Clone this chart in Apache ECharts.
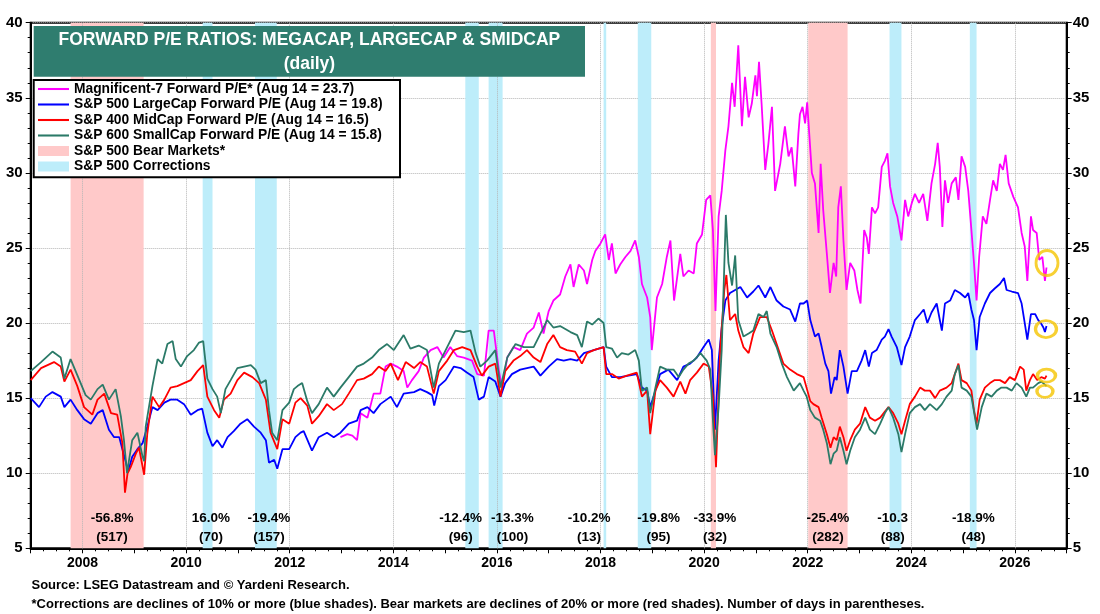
<!DOCTYPE html>
<html lang="en">
<head>
<meta charset="UTF-8">
<title>Forward P/E Ratios</title>
<script src="https://cdn.jsdelivr.net/npm/echarts@6/dist/echarts.min.js"></script>
</head>
<body style="margin:0; background:#fff">
<div id="container" style="width:1100px; height:614px"></div>
<script type="text/javascript">

var FONT = '"Liberation Sans", Arial, Helvetica, sans-serif';

// series names (legend order)
var names = [
    'Magnificent-7 Forward P/E* (Aug 14 = 23.7)',
    'S&P 500 LargeCap Forward P/E (Aug 14 = 19.8)',
    'S&P 400 MidCap Forward P/E (Aug 14 = 16.5)',
    'S&P 600 SmallCap Forward P/E (Aug 14 = 15.8)',
    'S&P 500 Bear Markets*',
    'S&P 500 Corrections'
];

// [decimal year, forward P/E]
var mag7 = [
    [2012.98,12.4],[2013.11,12.6],[2013.21,12.5],[2013.30,12.2],[2013.37,14.0],[2013.50,13.7],[2013.62,15.3],[2013.75,15.3],
    [2013.85,17.1],[2013.95,17.3],[2014.07,17.1],[2014.20,16.8],[2014.27,15.7],[2014.36,16.2],[2014.49,16.8],[2014.59,17.7],
    [2014.72,18.2],[2014.85,18.4],[2014.97,17.7],[2015.10,18.4],[2015.23,17.8],[2015.36,17.7],[2015.52,17.5],[2015.62,16.6],
    [2015.75,16.5],[2015.84,19.5],[2015.94,19.5],[2016.04,16.8],[2016.10,15.7],[2016.20,17.7],[2016.32,18.4],[2016.45,18.2],
    [2016.58,19.3],[2016.71,19.7],[2016.81,20.7],[2016.90,19.3],[2017.00,20.8],[2017.09,21.5],[2017.22,21.9],[2017.32,23.1],
    [2017.42,23.9],[2017.48,22.4],[2017.58,23.9],[2017.68,23.5],[2017.74,22.6],[2017.84,24.2],[2017.90,24.8],[2018.00,25.3],
    [2018.09,25.9],[2018.16,24.2],[2018.22,25.3],[2018.29,23.3],[2018.38,23.9],[2018.48,24.4],[2018.58,24.8],[2018.67,25.5],
    [2018.74,24.4],[2018.80,22.6],[2018.90,21.7],[2018.96,20.4],[2018.99,18.2],[2019.09,21.7],[2019.19,22.6],[2019.28,24.4],
    [2019.35,25.5],[2019.42,21.5],[2019.54,24.6],[2019.60,23.1],[2019.70,23.5],[2019.80,23.3],[2019.86,25.3],[2019.96,25.9],
    [2020.04,28.2],[2020.12,28.5],[2020.17,26.2],[2020.22,20.8],[2020.28,27.1],[2020.34,28.8],[2020.41,31.5],[2020.47,33.1],
    [2020.54,36.0],[2020.59,34.4],[2020.66,38.5],[2020.73,33.1],[2020.79,36.4],[2020.86,33.7],[2020.92,34.6],[2020.99,36.5],
    [2021.02,35.1],[2021.06,37.4],[2021.11,34.6],[2021.18,30.2],[2021.24,31.9],[2021.31,34.4],[2021.37,28.8],[2021.47,30.6],
    [2021.56,33.1],[2021.63,31.1],[2021.69,31.7],[2021.76,29.1],[2021.82,32.6],[2021.85,33.9],[2021.90,34.4],[2021.95,33.3],
    [2021.99,34.7],[2022.03,32.6],[2022.08,30.0],[2022.14,29.3],[2022.21,26.0],[2022.25,30.6],[2022.30,27.5],[2022.37,24.6],
    [2022.43,22.0],[2022.50,24.0],[2022.55,23.1],[2022.59,27.7],[2022.64,29.1],[2022.69,25.5],[2022.75,22.2],[2022.82,24.0],
    [2022.90,23.5],[2022.96,22.2],[2023.02,21.3],[2023.09,26.2],[2023.14,25.7],[2023.18,24.6],[2023.24,27.7],[2023.30,27.3],
    [2023.36,27.7],[2023.43,30.4],[2023.49,30.8],[2023.54,31.3],[2023.59,29.1],[2023.65,28.0],[2023.73,27.1],[2023.81,25.5],
    [2023.88,28.2],[2023.94,27.1],[2024.01,28.0],[2024.07,28.6],[2024.15,28.0],[2024.23,28.6],[2024.31,26.8],[2024.39,29.3],
    [2024.46,30.6],[2024.51,32.0],[2024.55,30.4],[2024.60,26.4],[2024.65,29.5],[2024.71,28.0],[2024.78,29.3],[2024.86,29.7],
    [2024.91,28.2],[2024.97,31.1],[2025.04,30.4],[2025.10,28.8],[2025.16,26.2],[2025.21,24.0],[2025.26,21.5],[2025.31,24.4],
    [2025.38,27.1],[2025.45,26.6],[2025.52,28.2],[2025.58,29.5],[2025.65,28.8],[2025.71,30.6],[2025.77,30.2],[2025.82,31.2],
    [2025.88,29.3],[2025.97,28.4],[2026.06,27.7],[2026.13,26.0],[2026.19,25.1],[2026.24,22.8],[2026.31,27.1],[2026.35,26.2],
    [2026.42,26.0],[2026.47,24.2],[2026.53,24.4],[2026.58,22.8],[2026.61,23.7]
];

var largeCap = [
    [2007.00,15.0],[2007.16,14.4],[2007.29,15.1],[2007.42,15.4],[2007.58,15.1],[2007.65,14.4],[2007.77,14.9],[2007.90,14.2],
    [2008.03,13.6],[2008.16,13.3],[2008.29,14.0],[2008.39,14.2],[2008.51,12.9],[2008.61,12.4],[2008.71,12.4],[2008.77,11.6],
    [2008.84,10.7],[2008.88,10.1],[2008.96,11.1],[2009.06,11.6],[2009.16,12.0],[2009.25,13.1],[2009.35,14.4],[2009.45,14.2],
    [2009.58,14.7],[2009.70,14.9],[2009.83,14.9],[2009.96,14.6],[2010.09,13.9],[2010.22,14.2],[2010.31,14.3],[2010.41,12.7],
    [2010.51,11.8],[2010.60,12.2],[2010.70,11.7],[2010.80,12.4],[2010.92,12.8],[2011.05,13.3],[2011.18,13.6],[2011.31,13.1],
    [2011.44,12.7],[2011.54,12.2],[2011.60,10.7],[2011.70,10.9],[2011.76,10.3],[2011.86,11.6],[2011.99,11.6],[2012.11,12.4],
    [2012.21,12.7],[2012.27,12.8],[2012.43,11.5],[2012.56,12.4],[2012.72,12.7],[2012.85,12.4],[2012.98,12.7],[2013.14,13.3],
    [2013.30,13.5],[2013.37,14.2],[2013.50,14.4],[2013.62,14.0],[2013.75,14.6],[2013.95,15.1],[2014.07,14.4],[2014.20,15.3],
    [2014.40,15.4],[2014.52,15.6],[2014.65,15.4],[2014.75,15.2],[2014.79,14.5],[2014.88,15.8],[2015.01,16.2],[2015.17,17.1],
    [2015.30,17.0],[2015.42,16.7],[2015.55,16.4],[2015.65,14.9],[2015.75,15.1],[2015.84,16.4],[2015.97,16.1],[2016.07,15.1],
    [2016.16,16.0],[2016.29,16.6],[2016.45,16.9],[2016.58,17.0],[2016.71,17.1],[2016.84,16.5],[2017.00,17.1],[2017.16,17.6],
    [2017.29,17.5],[2017.42,17.6],[2017.55,17.5],[2017.68,18.0],[2017.87,18.2],[2018.06,18.4],[2018.11,17.1],[2018.22,16.4],
    [2018.38,16.4],[2018.54,16.5],[2018.70,16.6],[2018.80,15.7],[2018.90,15.5],[2018.96,14.4],[2019.06,15.5],[2019.15,16.6],
    [2019.31,16.9],[2019.48,16.2],[2019.60,17.1],[2019.73,17.3],[2019.86,17.7],[2019.99,18.4],[2020.09,18.9],[2020.15,18.2],
    [2020.21,12.9],[2020.28,17.5],[2020.34,19.7],[2020.41,21.5],[2020.50,22.0],[2020.60,22.2],[2020.70,22.4],[2020.83,21.7],
    [2020.95,22.1],[2021.05,22.5],[2021.18,21.7],[2021.28,22.4],[2021.40,21.5],[2021.53,21.1],[2021.66,20.9],[2021.76,20.1],
    [2021.85,21.3],[2021.92,21.3],[2021.99,21.5],[2022.05,20.2],[2022.14,19.1],[2022.21,19.3],[2022.27,18.4],[2022.34,17.3],
    [2022.40,16.8],[2022.45,15.3],[2022.52,16.4],[2022.56,16.2],[2022.62,18.2],[2022.69,17.1],[2022.77,15.3],[2022.85,16.8],
    [2022.95,16.8],[2023.04,17.5],[2023.11,18.2],[2023.18,17.1],[2023.24,18.0],[2023.33,18.2],[2023.43,18.9],[2023.49,19.1],
    [2023.56,19.6],[2023.62,19.1],[2023.72,18.4],[2023.81,17.2],[2023.88,18.4],[2023.97,19.1],[2024.07,20.2],[2024.17,20.6],
    [2024.24,20.9],[2024.31,20.0],[2024.39,20.7],[2024.49,21.3],[2024.59,19.5],[2024.65,21.3],[2024.75,21.5],[2024.84,22.2],
    [2024.94,22.0],[2025.04,21.7],[2025.10,22.0],[2025.16,20.9],[2025.21,20.2],[2025.26,18.2],[2025.32,20.4],[2025.42,21.3],
    [2025.52,22.0],[2025.61,22.3],[2025.71,22.6],[2025.79,23.0],[2025.84,22.2],[2025.94,22.1],[2026.06,22.0],[2026.13,21.3],
    [2026.19,20.0],[2026.24,18.9],[2026.31,20.6],[2026.39,20.6],[2026.45,20.2],[2026.50,20.0],[2026.55,19.7],[2026.58,19.4],
    [2026.61,19.8]
];

var midCap = [
    [2007.00,16.2],[2007.20,17.0],[2007.45,17.4],[2007.58,17.1],[2007.65,16.1],[2007.77,16.9],[2007.90,15.8],[2008.03,14.4],
    [2008.19,13.9],[2008.29,14.9],[2008.42,15.3],[2008.55,14.0],[2008.67,13.9],[2008.77,12.0],[2008.82,8.7],[2008.87,10.0],
    [2008.93,10.4],[2009.03,11.3],[2009.09,11.7],[2009.19,9.9],[2009.25,12.6],[2009.35,15.1],[2009.48,14.4],[2009.58,14.9],
    [2009.70,15.7],[2009.83,15.8],[2009.96,16.0],[2010.09,16.2],[2010.22,16.8],[2010.33,17.2],[2010.41,15.1],[2010.54,14.2],
    [2010.64,13.7],[2010.73,14.9],[2010.86,15.3],[2010.99,16.2],[2011.12,16.7],[2011.28,16.4],[2011.41,16.0],[2011.54,14.9],
    [2011.63,12.7],[2011.76,11.6],[2011.86,13.6],[2011.99,13.3],[2012.11,14.7],[2012.21,15.0],[2012.34,14.5],[2012.43,13.3],
    [2012.56,13.8],[2012.72,14.6],[2012.85,14.2],[2013.01,14.6],[2013.14,15.3],[2013.30,16.2],[2013.43,16.3],[2013.59,16.6],
    [2013.72,17.1],[2013.85,16.8],[2013.95,17.3],[2014.09,16.2],[2014.24,17.4],[2014.40,17.0],[2014.52,17.4],[2014.65,17.1],
    [2014.78,15.3],[2014.88,16.8],[2015.04,17.5],[2015.17,18.2],[2015.33,18.4],[2015.49,18.2],[2015.62,17.1],[2015.71,16.5],
    [2015.84,17.1],[2015.97,17.3],[2016.07,15.1],[2016.16,16.8],[2016.32,17.5],[2016.45,17.8],[2016.58,18.2],[2016.71,17.7],
    [2016.84,17.4],[2016.97,18.6],[2017.09,19.2],[2017.22,18.4],[2017.35,18.2],[2017.51,18.1],[2017.64,17.3],[2017.74,18.0],
    [2017.87,18.2],[2018.06,18.4],[2018.11,16.6],[2018.22,16.6],[2018.35,16.3],[2018.51,16.5],[2018.70,16.7],[2018.80,15.1],
    [2018.90,15.5],[2018.96,12.6],[2019.06,15.5],[2019.15,16.2],[2019.28,15.7],[2019.41,15.1],[2019.54,16.1],[2019.64,15.3],
    [2019.73,16.2],[2019.86,16.7],[2019.99,17.3],[2020.09,17.1],[2020.17,15.1],[2020.23,10.4],[2020.31,18.2],[2020.39,22.2],
    [2020.43,23.2],[2020.50,20.2],[2020.60,20.6],[2020.66,19.5],[2020.76,18.4],[2020.86,18.0],[2020.95,19.3],[2021.08,20.4],
    [2021.21,20.4],[2021.31,19.5],[2021.40,18.6],[2021.53,17.3],[2021.66,16.9],[2021.79,16.6],[2021.92,16.4],[2022.01,15.3],
    [2022.05,14.8],[2022.11,14.6],[2022.21,14.4],[2022.27,13.7],[2022.37,12.6],[2022.44,11.7],[2022.50,12.4],[2022.56,12.2],
    [2022.62,13.1],[2022.69,12.4],[2022.75,11.5],[2022.82,12.2],[2022.91,12.9],[2023.01,13.3],[2023.11,14.4],[2023.20,13.7],
    [2023.30,13.5],[2023.40,13.7],[2023.49,14.1],[2023.56,14.4],[2023.65,14.0],[2023.75,13.3],[2023.81,12.6],[2023.88,13.5],
    [2023.97,14.6],[2024.07,15.1],[2024.17,15.7],[2024.26,15.5],[2024.36,15.5],[2024.46,15.0],[2024.55,15.5],[2024.68,15.7],
    [2024.78,16.0],[2024.84,16.6],[2024.91,17.3],[2024.97,16.2],[2025.07,16.0],[2025.16,15.5],[2025.21,14.2],[2025.26,13.3],
    [2025.32,14.9],[2025.42,15.7],[2025.52,16.0],[2025.61,16.2],[2025.71,16.2],[2025.81,16.0],[2025.90,16.4],[2026.00,16.2],
    [2026.10,17.1],[2026.17,16.9],[2026.22,15.5],[2026.29,16.2],[2026.35,16.6],[2026.43,16.2],[2026.51,16.4],[2026.58,16.3],
    [2026.61,16.5]
];

var smallCap = [
    [2007.00,16.8],[2007.20,17.4],[2007.42,18.1],[2007.58,17.7],[2007.65,16.3],[2007.77,17.6],[2007.94,16.2],[2008.06,15.2],
    [2008.16,14.9],[2008.29,15.6],[2008.39,15.9],[2008.51,14.9],[2008.64,15.6],[2008.74,13.8],[2008.80,12.2],[2008.86,10.0],
    [2008.90,10.9],[2008.96,12.2],[2009.06,12.7],[2009.16,11.1],[2009.19,10.8],[2009.22,13.1],[2009.35,15.8],[2009.45,17.6],
    [2009.54,17.3],[2009.64,18.6],[2009.74,18.8],[2009.80,17.6],[2009.90,17.1],[2010.02,17.8],[2010.15,18.2],[2010.25,18.7],
    [2010.33,18.8],[2010.41,16.3],[2010.51,15.6],[2010.60,15.1],[2010.67,14.0],[2010.76,15.6],[2010.86,16.2],[2010.99,17.0],
    [2011.12,17.1],[2011.25,17.2],[2011.34,16.9],[2011.44,16.0],[2011.54,16.2],[2011.60,14.2],[2011.66,12.7],[2011.76,12.2],
    [2011.86,14.2],[2011.99,14.7],[2012.08,15.6],[2012.15,15.8],[2012.24,16.0],[2012.34,14.8],[2012.43,14.0],[2012.56,14.6],
    [2012.72,15.7],[2012.85,15.1],[2012.98,15.7],[2013.14,16.4],[2013.30,17.1],[2013.43,17.3],[2013.59,17.7],[2013.72,18.2],
    [2013.88,18.6],[2014.01,18.2],[2014.20,19.2],[2014.33,18.3],[2014.49,18.5],[2014.65,18.2],[2014.78,15.7],[2014.88,17.3],
    [2015.04,18.4],[2015.20,19.5],[2015.36,19.4],[2015.49,19.5],[2015.59,18.0],[2015.68,17.1],[2015.81,17.5],[2015.97,18.2],
    [2016.07,15.7],[2016.20,17.7],[2016.36,18.6],[2016.52,18.4],[2016.71,18.4],[2016.87,19.5],[2016.97,20.2],[2017.09,19.7],
    [2017.22,19.8],[2017.42,19.4],[2017.55,19.2],[2017.64,18.4],[2017.74,20.1],[2017.84,19.9],[2017.96,20.3],[2018.06,20.0],
    [2018.11,18.4],[2018.22,18.3],[2018.32,17.7],[2018.41,18.0],[2018.54,17.9],[2018.67,18.2],[2018.74,17.5],[2018.80,15.5],
    [2018.90,15.7],[2018.96,14.0],[2019.06,15.7],[2019.15,17.1],[2019.28,16.9],[2019.41,16.9],[2019.51,16.4],[2019.60,16.9],
    [2019.70,17.3],[2019.80,17.5],[2019.93,18.0],[2020.05,17.5],[2020.12,16.9],[2020.18,12.9],[2020.21,11.2],[2020.28,14.4],
    [2020.34,18.2],[2020.42,27.2],[2020.47,24.0],[2020.54,22.5],[2020.60,24.5],[2020.66,20.2],[2020.76,19.1],[2020.86,19.3],
    [2020.95,19.5],[2021.05,20.6],[2021.15,20.4],[2021.21,20.8],[2021.28,19.3],[2021.40,18.4],[2021.50,17.3],[2021.60,16.4],
    [2021.73,15.5],[2021.85,16.0],[2021.92,15.5],[2021.98,15.1],[2022.05,14.2],[2022.14,13.7],[2022.24,13.5],[2022.30,12.9],
    [2022.37,12.0],[2022.44,10.6],[2022.50,11.3],[2022.56,11.5],[2022.62,12.4],[2022.69,11.5],[2022.75,10.6],[2022.82,11.5],
    [2022.91,12.4],[2023.01,12.9],[2023.11,13.7],[2023.20,12.9],[2023.30,12.6],[2023.40,13.3],[2023.49,14.0],[2023.56,14.4],
    [2023.65,13.7],[2023.75,12.6],[2023.81,11.4],[2023.88,12.6],[2023.97,14.0],[2024.07,14.4],[2024.17,14.6],[2024.26,14.2],
    [2024.36,14.6],[2024.49,14.2],[2024.59,14.6],[2024.68,15.1],[2024.78,15.5],[2024.84,16.6],[2024.91,17.2],[2024.97,15.7],
    [2025.07,15.5],[2025.16,15.1],[2025.23,13.7],[2025.27,12.9],[2025.36,14.4],[2025.45,15.3],[2025.55,15.1],[2025.65,15.5],
    [2025.74,15.7],[2025.84,15.7],[2025.94,15.5],[2026.03,16.0],[2026.13,15.7],[2026.22,15.1],[2026.29,15.7],[2026.35,15.7],
    [2026.45,16.0],[2026.51,16.1],[2026.58,15.9],[2026.61,15.8]
];

// shaded periods [start, end] in decimal years
var bearMarkets = [[2007.77, 2009.18], [2020.13, 2020.23], [2022.01, 2022.77]];
var corrections = [
    [2010.32, 2010.51], [2011.33, 2011.75], [2015.39, 2015.65], [2015.84, 2016.11],
    [2018.06, 2018.11], [2018.72, 2018.98], [2023.58, 2023.81], [2025.13, 2025.26]
];

// notes under the shades
var noteYears = [2008.57, 2010.48, 2011.60, 2015.30, 2016.30, 2017.78, 2019.12, 2020.21, 2022.39, 2023.64, 2025.20];
var notePct   = ['-56.8%', '16.0%', '-19.4%', '-12.4%', '-13.3%', '-10.2%', '-19.8%', '-33.9%', '-25.4%', '-10.3', '-18.9%'];
var noteDays  = ['(517)', '(70)', '(157)', '(96)', '(100)', '(13)', '(95)', '(32)', '(282)', '(88)', '(48)'];

// yellow rings round the latest readings
var ringYears  = [2026.62, 2026.60, 2026.61, 2026.58];
var ringValues = [24.0, 19.6, 16.5, 15.45];

var COLORS = ['#ff00ff', '#0000ff', '#ff0000', '#2b7a68'];
var PINK = '#ffc9c9';
var SKY = '#bdedfa';
var RING_SIZE = [[22, 25], [21, 17], [18, 13], [16, 12]];
var LINE_ICON = 'path://M0,0 L120,0 L120,8 L0,8 Z';

var dom = document.getElementById('container');
var myChart = echarts.init(dom);

function lineSeries(i, data) {
    return {
        name: names[i],
        type: 'line',
        data: data,
        symbol: 'none',
        color: COLORS[i],
        lineStyle: {color: COLORS[i], width: 1.8},
        z: 3
    };
}

var gridYears = [];
for (var y = 2008; y <= 2026; y += 2) gridYears.push({xAxis: y});

var boldText = {fontFamily: FONT, fontWeight: 'bold', color: '#000'};
var noteLabel = {
    show: true, position: 'inside', fontSize: 13.5,
    fontFamily: FONT, fontWeight: 'bold', color: '#000',
    textBorderWidth: 0, textBorderColor: 'transparent', opacity: 1
};

option = {
    animation: false,
    grid: {
        left: 30.7, right: 33.3, top: 22.7, bottom: 65.7,
        show: true, borderColor: '#000', borderWidth: 2
    },
    xAxis: {
        type: 'value', min: 2007, max: 2027, interval: 1,
        axisLine: {lineStyle: {color: '#000', width: 2}},
        axisTick: {length: 5, lineStyle: {color: '#000', width: 1}},
        minorTick: {show: true, splitNumber: 4, length: 3, lineStyle: {color: '#000'}},
        splitLine: {show: false},
        axisLabel: Object.assign({
            fontSize: 14, margin: 8,
            formatter: function (v) { return v % 2 === 0 ? String(v) : ''; }
        }, boldText)
    },
    yAxis: [
        {
            type: 'value', min: 5, max: 40, interval: 5, position: 'left',
            axisLine: {show: true, lineStyle: {color: '#000', width: 2}},
            axisTick: {show: true, length: 5, lineStyle: {color: '#000'}},
            minorTick: {show: true, splitNumber: 5, length: 3, lineStyle: {color: '#000'}},
            splitLine: {show: true, lineStyle: {type: 'dotted', color: '#b5b5b5', width: 1}},
            axisLabel: Object.assign({fontSize: 15, margin: 8}, boldText)
        },
        {
            type: 'value', min: 5, max: 40, interval: 5, position: 'right',
            axisLine: {show: true, lineStyle: {color: '#000', width: 2}},
            axisTick: {show: true, length: 5, lineStyle: {color: '#000'}},
            minorTick: {show: true, splitNumber: 5, length: 3, lineStyle: {color: '#000'}},
            splitLine: {show: false},
            axisLabel: Object.assign({fontSize: 15, margin: 6}, boldText)
        }
    ],
    legend: {
        orient: 'vertical', left: 38, top: 82, padding: 0,
        itemGap: 1.5, itemWidth: 31, itemHeight: 10,
        selectedMode: false, z: 60,
        textStyle: Object.assign({fontSize: 13.8}, boldText),
        data: [
            {name: names[0], icon: LINE_ICON}, {name: names[1], icon: LINE_ICON},
            {name: names[2], icon: LINE_ICON}, {name: names[3], icon: LINE_ICON},
            {name: names[4], icon: 'rect'}, {name: names[5], icon: 'rect'}
        ]
    },
    graphic: [
        {type: 'rect', z: 50, shape: {x: 33.7, y: 26, width: 551.3, height: 50.7}, style: {fill: '#2f7d6f'}},
        {type: 'text', z: 51, x: 309.4, y: 40.5, style: {
            text: 'FORWARD P/E RATIOS: MEGACAP, LARGECAP & SMIDCAP', fill: '#fff',
            fontFamily: FONT, fontWeight: 'bold', fontSize: 17.5, align: 'center', verticalAlign: 'middle'}},
        {type: 'text', z: 51, x: 309.4, y: 64.3, style: {
            text: '(daily)', fill: '#fff',
            fontFamily: FONT, fontWeight: 'bold', fontSize: 17.5, align: 'center', verticalAlign: 'middle'}},
        {type: 'rect', z: 50, shape: {x: 33.7, y: 80, width: 366.3, height: 97.3}, style: {fill: '#fff', stroke: '#000', lineWidth: 2}},
        {type: 'text', z: 51, x: 31.5, y: 585.7, style: {
            text: 'Source: LSEG Datastream and \u00a9 Yardeni Research.', fill: '#000',
            fontFamily: FONT, fontWeight: 'bold', fontSize: 13, align: 'left', verticalAlign: 'middle'}},
        {type: 'text', z: 51, x: 31.5, y: 604.3, style: {
            text: '*Corrections are declines of 10% or more (blue shades). Bear markets are declines of 20% or more (red shades). Number of days in parentheses.',
            fill: '#000', fontFamily: FONT, fontWeight: 'bold', fontSize: 13, align: 'left', verticalAlign: 'middle'}}
    ],
    series: [
        {
            name: names[4], type: 'line', data: [], color: PINK,
            itemStyle: {color: PINK}, lineStyle: {color: PINK},
            markArea: {
                silent: true, itemStyle: {color: PINK},
                data: bearMarkets.map(function (b) { return [{xAxis: b[0]}, {xAxis: b[1]}]; })
            },
            markLine: {
                silent: true, z: 2, symbol: 'none', animation: false,
                label: {show: false},
                lineStyle: {type: 'dotted', color: '#b5b5b5', width: 1},
                data: gridYears
            }
        },
        {
            name: names[5], type: 'line', data: [], color: SKY,
            itemStyle: {color: SKY}, lineStyle: {color: SKY},
            markArea: {
                silent: true, itemStyle: {color: SKY},
                data: corrections.map(function (b) { return [{xAxis: b[0]}, {xAxis: b[1]}]; })
            }
        },
        lineSeries(0, mag7),
        lineSeries(1, largeCap),
        lineSeries(2, midCap),
        lineSeries(3, smallCap),
        {
            type: 'scatter', silent: true, z: 5,
            data: noteYears.map(function (x) { return [x, 6.98]; }),
            symbol: 'rect', symbolSize: 1, itemStyle: {color: '#fff', opacity: 0},
            label: Object.assign({formatter: function (p) { return notePct[p.dataIndex]; }}, noteLabel)
        },
        {
            type: 'scatter', silent: true, z: 5,
            data: noteYears.map(function (x) { return [x, 5.75]; }),
            symbol: 'rect', symbolSize: 1, itemStyle: {color: '#fff', opacity: 0},
            label: Object.assign({formatter: function (p) { return noteDays[p.dataIndex]; }}, noteLabel)
        },
        {
            type: 'scatter', silent: true, z: 6,
            data: ringYears.map(function (x, i) { return [x, ringValues[i]]; }),
            symbol: 'circle',
            symbolSize: function (v, p) { return RING_SIZE[p.dataIndex]; },
            itemStyle: {color: 'rgba(0,0,0,0)', borderColor: '#f5c400', borderWidth: 3}
        }
    ]
};

myChart.setOption(option);

</script>
</body>
</html>
